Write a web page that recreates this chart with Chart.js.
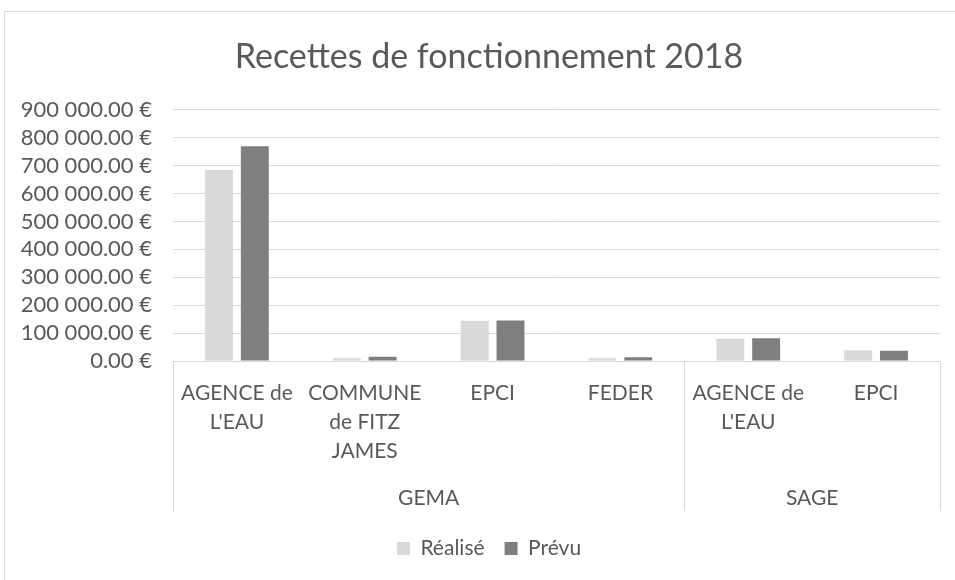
<!DOCTYPE html>
<html lang="fr">
<head>
<meta charset="utf-8">
<title>Recettes de fonctionnement 2018</title>
<script src="https://cdn.jsdelivr.net/npm/chart.js"></script>
<style>
  html, body { margin: 0; padding: 0; background: #fff; overflow: hidden; }
  #box {
    position: absolute; left: 4px; top: 11px;
    width: 968px; height: 568px;
    border: 1px solid #d9d9d9;
  }
</style>
</head>
<body>
<div id="box"><canvas id="chart-recettes"></canvas></div>
<script>
// Chart data
const categories = [
  ['AGENCE de', "L'EAU"],
  ['COMMUNE', 'de FITZ', 'JAMES'],
  'EPCI',
  'FEDER',
  ['AGENCE de', "L'EAU"],
  'EPCI'
];
const groups = [
  { name: 'GEMA', from: 0, to: 3 },
  { name: 'SAGE', from: 4, to: 5 }
];
const realise = [684000, 9500, 144000, 9600, 79500, 37500];
const prevu = [769000, 15600, 145000, 13200, 81800, 37000];
const yTicks = [0, 100000, 200000, 300000, 400000, 500000, 600000, 700000, 800000, 900000];

const TEXT = '#595959';
const GRID = '#d9d9d9';
const FONT = 'Lato, "Open Sans", sans-serif';

function formatEuro(v) {
  const [int, dec] = v.toFixed(2).split('.');
  return int.replace(/\B(?=(\d{3})+(?!\d))/g, ' ') + '.' + dec + ' €';
}

// second level of the category axis: group names + separators
const groupAxis = {
  id: 'groupAxis',
  afterDraw(chart) {
    const { ctx, chartArea } = chart;
    const x = chart.scales.x;
    const top = chartArea.bottom;
    const bottom = top + 150;
    const half = (x.getPixelForValue(1) - x.getPixelForValue(0)) / 2;

    ctx.save();
    ctx.strokeStyle = GRID;
    ctx.lineWidth = 1;
    const edges = [chartArea.left];
    groups.forEach(g => edges.push(x.getPixelForValue(g.to) + half));
    edges.forEach(px => {
      const p = Math.round(px) + 0.5;
      ctx.beginPath();
      ctx.moveTo(p, top);
      ctx.lineTo(p, bottom);
      ctx.stroke();
    });

    ctx.fillStyle = TEXT;
    ctx.font = `21px ${FONT}`;
    ctx.textAlign = 'center';
    ctx.textBaseline = 'middle';
    groups.forEach(g => {
      const cx = (x.getPixelForValue(g.from) + x.getPixelForValue(g.to)) / 2;
      ctx.fillText(g.name, cx, top + 137);
    });
    ctx.restore();
  }
};

function drawChart() {
  const ctx = document.getElementById('chart-recettes').getContext('2d');
  new Chart(ctx, {
    type: 'bar',
    data: {
      labels: categories,
      datasets: [
        { label: 'Réalisé', data: realise, backgroundColor: '#d9d9d9' },
        { label: 'Prévu', data: prevu, backgroundColor: '#7f7f7f' }
      ]
    },
    options: {
      responsive: true,
      maintainAspectRatio: false,
      animation: false,
      categoryPercentage: 0.56,
      barPercentage: 0.78,
      layout: { padding: { left: 0, right: 0, top: 0, bottom: 11 } },
      scales: {
        x: {
          grid: { display: false },
          border: { display: false },
          ticks: {
            color: TEXT,
            font: { family: FONT, size: 21, lineHeight: '29px' },
            padding: 10,
            autoSkip: false,
            maxRotation: 0
          },
          afterFit(scale) { scale.height = 157; }
        },
        y: {
          min: 0,
          max: 900000,
          border: { display: false },
          grid: { color: GRID, drawTicks: false },
          afterBuildTicks(scale) { scale.ticks = yTicks.map(v => ({ value: v })); },
          ticks: {
            color: TEXT,
            font: { family: FONT, size: 22 },
            padding: 21,
            autoSkip: false,
            callback: v => formatEuro(v)
          },
          afterFit(scale) { scale.width = 168; }
        },
        // empty right margin so title and legend stay centred like the original
        spacer: {
          type: 'linear',
          position: 'right',
          grid: { display: false },
          border: { display: false },
          ticks: { display: false },
          afterFit(scale) { scale.width = 33; }
        }
      },
      plugins: {
        title: {
          display: true,
          text: 'Recettes de fonctionnement 2018',
          color: TEXT,
          font: { family: FONT, size: 34, weight: 'normal', lineHeight: 1.2 },
          padding: { top: 25, bottom: 32 }
        },
        legend: {
          position: 'bottom',
          labels: {
            color: TEXT,
            font: { family: FONT, size: 21 },
            boxWidth: 13,
            boxHeight: 13,
            padding: 20
          }
        },
        tooltip: { enabled: false }
      }
    },
    plugins: [groupAxis]
  });
}

document.addEventListener('DOMContentLoaded', drawChart);
</script>
</body>
</html>
